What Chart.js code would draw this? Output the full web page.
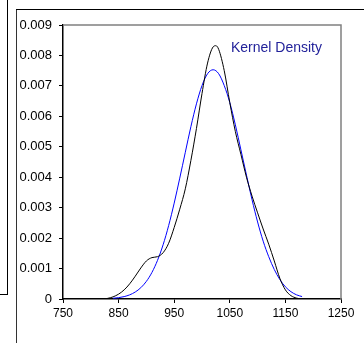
<!DOCTYPE html>
<html>
<head>
<meta charset="utf-8">
<script src="https://cdn.jsdelivr.net/npm/chart.js@4/dist/chart.umd.min.js"></script>
<style>
  html, body { margin: 0; padding: 0; background: #fff; }
  #wrap { position: relative; width: 364px; height: 343px; overflow: hidden; }
  #chart { position: absolute; left: 0; top: 0; }
  .ln { position: absolute; background: #000; }
</style>
</head>
<body>
<div id="wrap">
  <canvas id="chart" width="364" height="343"></canvas>
  <div class="ln" style="left:7px;top:0;width:1px;height:294px;"></div>
  <div class="ln" style="left:0;top:294px;width:8px;height:1px;"></div>
  <div class="ln" style="left:16px;top:9px;width:1px;height:334px;background:#333;"></div>
  <div class="ln" style="left:16px;top:9px;width:348px;height:1px;"></div>
</div>
<script>
// kernel density estimate (black)
const kdeX = [820, 830, 840, 850, 860, 870, 880, 890, 900, 910, 920, 930, 940, 950, 960, 970, 980, 990,
  1000, 1010, 1020, 1025, 1030, 1040, 1050, 1060, 1070, 1080, 1090, 1100, 1110, 1120, 1130, 1140,
  1150, 1160, 1170, 1178];
const kdeY = [0, 0.00002, 0.00007, 0.00016, 0.0003, 0.0005, 0.00075, 0.00102, 0.00125, 0.00136,
  0.00139, 0.00152, 0.00183, 0.00235, 0.00295, 0.00362, 0.00455, 0.0056, 0.00675, 0.00775, 0.00828,
  0.00832, 0.0082, 0.0075, 0.00645, 0.0055, 0.00475, 0.004, 0.00338, 0.00283, 0.0023, 0.0018,
  0.00125, 0.00068, 0.0003, 0.00011, 0.00003, 0];

// normal fit (blue)
const normX = [840, 850, 860, 870, 880, 890, 900, 910, 920, 930, 940, 950, 960, 970, 980, 990,
  1000, 1010, 1020, 1030, 1040, 1050, 1060, 1070, 1080, 1090, 1100, 1110, 1120, 1130, 1140,
  1150, 1160, 1170, 1180];
const normY = [0.000024, 0.000044, 0.000079, 0.000137, 0.00023, 0.000372, 0.00058, 0.000874,
  0.00127, 0.00178, 0.00241, 0.00315, 0.00397, 0.00482, 0.00566, 0.00641, 0.00701, 0.0074,
  0.00753, 0.0074, 0.00701, 0.00645, 0.00572, 0.0049, 0.00407, 0.00326, 0.00253, 0.0019,
  0.00139, 0.00097, 0.00064, 0.0004, 0.00024, 0.000137, 0.00008];

const xTicks = [750, 850, 950, 1050, 1150, 1250];
const yTicks = [0, 0.001, 0.002, 0.003, 0.004, 0.005, 0.006, 0.007, 0.008, 0.009];
const noteText = 'Kernel Density';
const notePos = [1052, 0.00824];

const FAMILY = 'Arial, "Liberation Sans", sans-serif';

const frame = {
  id: 'frame',
  beforeDatasetsDraw(chart) {
    const a = chart.chartArea, ctx = chart.ctx;
    ctx.save();
    ctx.strokeStyle = '#808080';
    ctx.lineWidth = 1.5;
    ctx.beginPath();
    ctx.moveTo(a.left, a.top);
    ctx.lineTo(a.right, a.top);
    ctx.lineTo(a.right, a.bottom);
    ctx.stroke();
    ctx.restore();
  },
  afterDraw(chart) {
    const ctx = chart.ctx;
    ctx.save();
    ctx.font = '14px ' + FAMILY;
    ctx.fillStyle = '#22229a';
    ctx.textAlign = 'left';
    ctx.textBaseline = 'middle';
    ctx.fillText(noteText, chart.scales.x.getPixelForValue(notePos[0]),
      chart.scales.y.getPixelForValue(notePos[1]));
    ctx.restore();
  }
};

new Chart(document.getElementById('chart'), {
  type: 'line',
  data: {
    datasets: [
      {
        data: kdeX.map((x, i) => ({ x: x, y: kdeY[i] })),
        borderColor: '#000000',
        borderWidth: 1,
        pointRadius: 0,
        cubicInterpolationMode: 'monotone'
      },
      {
        data: normX.map((x, i) => ({ x: x, y: normY[i] })),
        borderColor: '#0000ff',
        borderWidth: 1,
        pointRadius: 0,
        cubicInterpolationMode: 'monotone'
      }
    ]
  },
  options: {
    responsive: false,
    animation: false,
    layout: { padding: { left: 0, right: 23, top: 25, bottom: 0 } },
    plugins: { legend: { display: false }, tooltip: { enabled: false } },
    scales: {
      x: {
        type: 'linear',
        min: 750,
        max: 1250,
        afterBuildTicks: s => { s.ticks = xTicks.map(v => ({ value: v })); },
        afterFit: s => { s.height = 44; },
        border: { color: '#000', width: 1.5 },
        grid: { drawOnChartArea: false, tickLength: 4, color: '#000' },
        ticks: { color: '#000', font: { family: FAMILY, size: 12 }, padding: 3, maxRotation: 0,
          callback: v => String(v) }
      },
      y: {
        min: 0,
        max: 0.009,
        afterBuildTicks: s => { s.ticks = yTicks.map(v => ({ value: v })); },
        afterFit: s => { s.width = 63; },
        border: { color: '#000', width: 1.5 },
        grid: { drawOnChartArea: false, tickLength: 4, color: '#000' },
        ticks: { color: '#000', font: { family: FAMILY, size: 13 }, padding: 7,
          callback: v => String(v) }
      }
    }
  },
  plugins: [frame]
});
</script>
</body>
</html>
